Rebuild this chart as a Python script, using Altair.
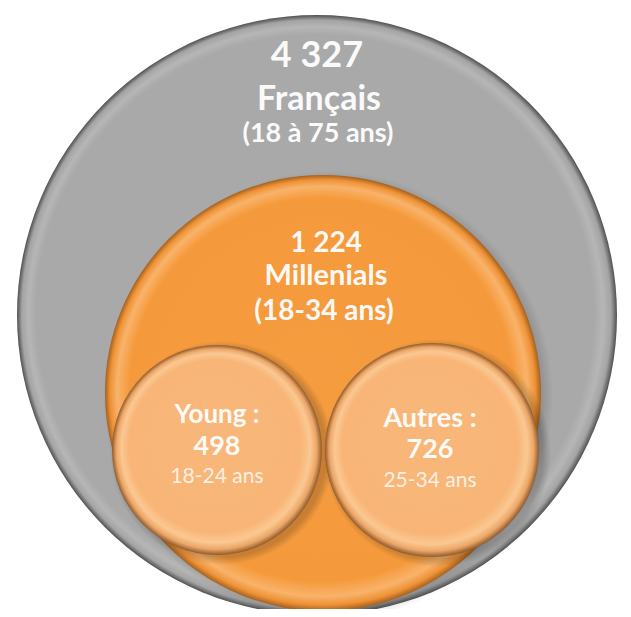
import altair as alt
import pandas as pd

# --- content -------------------------------------------------------------
group_names = ["Français", "Millenials", "Young", "Autres"]
group_counts = ["4 327", "1 224", "498", "726"]
age_ranges = ["(18 à 75 ans)", "(18-34 ans)", "18-24 ans", "25-34 ans"]

# --- diagram layout (pixel space of the picture) ---------------------------
circle_cx = [317, 323, 217, 432]
circle_cy = [315, 393, 450, 450]
circle_r = [300, 218, 105, 107]

# text lines: (text, x, baseline y, font size, bold)
line_texts = [
    group_counts[0], group_names[0], age_ranges[0],
    group_counts[1], group_names[1], age_ranges[1],
    group_names[2] + " :", group_counts[2], age_ranges[2],
    group_names[3] + " :", group_counts[3], age_ranges[3],
]
line_x = [317, 319, 318, 326, 326, 324, 217, 217, 217, 430, 430, 430]
line_y = [67, 110, 142, 252, 285, 320, 423, 455, 483, 427, 458, 487]
line_size = [36, 34, 27, 28, 29, 28, 26, 27, 21, 27, 27, 21]
line_bold = [True, True, True, True, True, True, True, True, False, True, True, False]

W, H = 615, 601
xs = alt.Scale(domain=[8, 8 + W], nice=False, zero=False)
ys = alt.Scale(domain=[8, 8 + H], nice=False, zero=False, reverse=True)

circles = pd.DataFrame({
    "name": group_names,
    "cx": circle_cx,
    "cy": circle_cy,
    "r": circle_r,
})
circles["size"] = (2 * circles["r"]) ** 2
circles["shadow_size"] = (2 * (circles["r"] + 7)) ** 2
circles["sx"] = circles["cx"] + 5
circles["sy"] = circles["cy"] + 3

lines = pd.DataFrame({
    "text": line_texts, "x": line_x, "y": line_y,
    "size": line_size, "bold": line_bold,
})


def grad(stops, fx=0.45, fy=0.40):
    return alt.RadialGradient(
        gradient="radial",
        x1=fx, y1=fy, r1=0,
        x2=0.5, y2=0.5, r2=0.5,
        stops=[alt.GradientStop(color=c, offset=o) for o, c in stops],
    )


gray_fill = grad([(0, "#a9a9a9"), (0.93, "#a9a9a9"), (0.958, "#b6b6b6"),
                  (0.982, "#a4a4a4"), (1, "#505050")], fx=0.45, fy=0.47)
orange_fill = grad([(0, "#f59c40"), (0.88, "#f59a3c"), (0.94, "#f9b36a"),
                    (0.975, "#ee9236"), (1, "#a5601f")], fx=0.47, fy=0.44)
light_fill = grad([(0, "#f8b77a"), (0.82, "#f8b577"), (0.9, "#fbc892"),
                   (0.955, "#eba667"), (1, "#8f5a2c")])
shadow_fill = grad([(0, "rgba(0,0,0,0.25)"), (0.93, "rgba(0,0,0,0.18)"),
                    (1, "rgba(0,0,0,0)")], fx=0.5, fy=0.5)

base = alt.Chart(circles)
enc = dict(
    x=alt.X("cx:Q", scale=xs, axis=None),
    y=alt.Y("cy:Q", scale=ys, axis=None),
    size=alt.Size("size:Q", scale=None, legend=None),
)
senc = dict(
    x=alt.X("sx:Q", scale=xs, axis=None),
    y=alt.Y("sy:Q", scale=ys, axis=None),
    size=alt.Size("shadow_size:Q", scale=None, legend=None),
)

gray = base.transform_filter(alt.datum.name == group_names[0]).mark_circle(
    fill=gray_fill, opacity=1, strokeWidth=0).encode(**enc)
orange_shadow = base.transform_filter(alt.datum.name == group_names[1]).mark_circle(
    fill=shadow_fill, opacity=1, strokeWidth=0).encode(**senc)
orange = base.transform_filter(alt.datum.name == group_names[1]).mark_circle(
    fill=orange_fill, opacity=1, strokeWidth=0).encode(**enc)
small_filter = (alt.datum.name == group_names[2]) | (alt.datum.name == group_names[3])
small_shadow = base.transform_filter(small_filter).mark_circle(
    fill=shadow_fill, opacity=1, strokeWidth=0).encode(**senc)
small = base.transform_filter(small_filter).mark_circle(
    fill=light_fill, opacity=1, strokeWidth=0).encode(**enc)

tbase = alt.Chart(lines)
tenc = dict(
    x=alt.X("x:Q", scale=xs, axis=None),
    y=alt.Y("y:Q", scale=ys, axis=None),
    text="text:N",
    size=alt.Size("size:Q", scale=None, legend=None),
)
bold_text = tbase.transform_filter(alt.datum.bold).mark_text(
    font="Lato", fontWeight="bold", color="#ffffff", opacity=0.95,
    align="center", baseline="alphabetic").encode(**tenc)
light_text = tbase.transform_filter(~alt.datum.bold).mark_text(
    font="Lato", fontWeight="normal", color="#fff4ea", opacity=0.95,
    align="center", baseline="alphabetic").encode(**tenc)

chart = alt.layer(
    gray, orange_shadow, orange, small_shadow, small, bold_text, light_text
).properties(
    width=W, height=H, padding=0,
    autosize=alt.AutoSizeParams(type="none"),
    background="#ffffff",
).configure_view(stroke=None)

chart.save("out.html", embed_options={"renderer": "svg", "actions": False})
